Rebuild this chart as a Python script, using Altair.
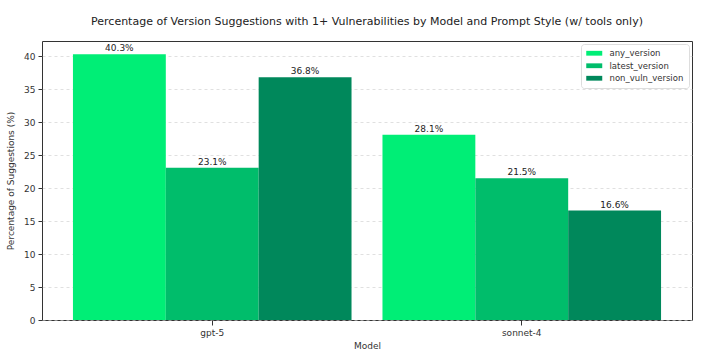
import altair as alt
import pandas as pd

models = ["gpt-5", "gpt-5", "gpt-5", "sonnet-4", "sonnet-4", "sonnet-4"]
styles = ["any_version", "latest_version", "non_vuln_version"] * 2
values = [40.3, 23.1, 36.8, 28.1, 21.5, 16.6]
style_order = ["any_version", "latest_version", "non_vuln_version"]
colors = ["#00EE76", "#00BD6B", "#00885B"]

df = pd.DataFrame({"Model": models, "Style": styles, "Value": values})
df["Label"] = df["Value"].map(lambda v: f"{v:.1f}%")

font = "DejaVu Sans"

x_enc = alt.X("Model:N", title="Model",
              scale=alt.Scale(paddingInner=0.1, paddingOuter=0.1),
              axis=alt.Axis(labelAngle=0, labelFontSize=9, titleFontSize=9,
                            labelFont=font, titleFont=font, labelColor="#333",
                            titleColor="#333", tickColor="#333", domain=False,
                            titleFontWeight="normal",
                            labelPadding=3, titlePadding=4, grid=False))
y_enc = alt.Y("Value:Q", title="Percentage of Suggestions (%)",
              scale=alt.Scale(domain=[0, 42.3], nice=False),
              axis=alt.Axis(values=[0, 5, 10, 15, 20, 25, 30, 35, 40],
                            labelOverlap=False,
                            labelFontSize=9, titleFontSize=9, labelFont=font,
                            titleFont=font, labelColor="#333", titleColor="#333",
                            titleFontWeight="normal",
                            tickColor="#333", domain=False, gridDash=[3, 3],
                            gridColor="#cccccc", gridOpacity=0.6, titlePadding=8,
                            labelPadding=3, tickSize=4))

base = alt.Chart(df).encode(
    x=x_enc,
    y=y_enc,
    xOffset=alt.XOffset("Style:N", sort=style_order,
                        scale=alt.Scale(paddingInner=0, paddingOuter=0)),
)

bars = base.mark_bar().encode(
    color=alt.Color("Style:N", sort=style_order,
                    scale=alt.Scale(domain=style_order, range=colors),
                    legend=alt.Legend(title=None, orient="top-right",
                                      fillColor="white", strokeColor="#dddddd",
                                      padding=5, cornerRadius=3,
                                      labelFont=font, labelFontSize=8.5,
                                      labelColor="#333", labelOffset=15,
                                      symbolType="M-1,-0.6L3,-0.6L3,0.6L-1,0.6Z",
                                      symbolSize=64, symbolStrokeWidth=0,
                                      rowPadding=3.5, offset=3)),
)

labels = base.mark_text(baseline="bottom", dy=-1, fontSize=9, font=font,
                        color="#222").encode(
    text="Label:N",
)

chart = alt.layer(bars, labels).properties(
    width=650, height=279,
    title=alt.TitleParams(
        "Percentage of Version Suggestions with 1+ Vulnerabilities by Model and Prompt Style (w/ tools only)",
        fontSize=11, font=font, fontWeight="normal", color="#222",
        anchor="middle", offset=14),
    autosize=alt.AutoSizeParams(type="none"),
    padding={"left": 42, "top": 41, "right": 23, "bottom": 31},
    background="white",
).configure_view(stroke="#333", strokeWidth=1)

chart.save("out.html", embed_options={"renderer": "svg", "actions": False})
